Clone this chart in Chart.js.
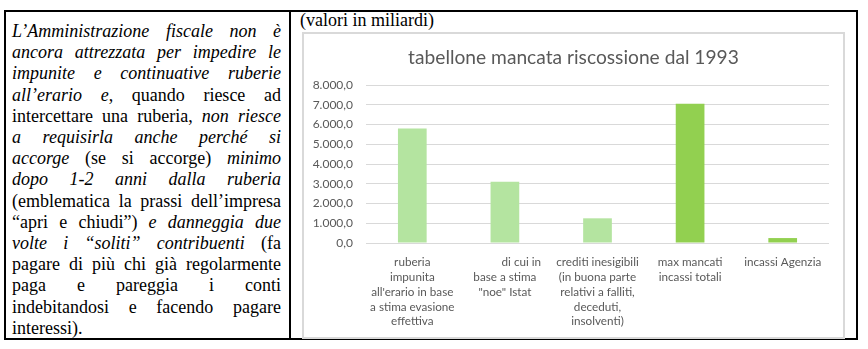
<!DOCTYPE html>
<html>
<head>
  <title>tabellone mancata riscossione dal 1993</title>
  <script src="https://cdn.jsdelivr.net/npm/chart.js"></script>
  <style>
    body { margin: 0; background: #fff; }
    #tabella {
      position: absolute; left: 4px; top: 10px; width: 854px; height: 330px;
      border: 2px solid #000; box-sizing: border-box;
    }
    #divisore { position: absolute; left: 289px; top: 10px; width: 2px; height: 330px; background: #000; }
    #testo {
      position: absolute; left: 12px; top: 21px; width: 269px;
      font-family: "Liberation Serif", "Times New Roman", serif;
      font-size: 18px; line-height: 21.2px; color: #000;
    }
    #testo div { text-align: justify; text-align-last: justify; }
    #testo div.ultima { text-align: left; text-align-last: left; }
    #unita {
      position: absolute; left: 300px; top: 10px;
      font-family: "Liberation Serif", "Times New Roman", serif;
      font-size: 18px; line-height: 21.6px;
    }
    #riquadro {
      position: absolute; left: 302px; top: 32px; width: 543px; height: 307px;
      border: 2px solid #d9d9d9; box-sizing: border-box; background: #fff;
    }
    #riquadro canvas { display: block; }
  </style>
</head>
<body>
  <div id="tabella"></div>
  <div id="divisore"></div>

  <div id="testo">
    <div><i>L’Amministrazione fiscale non è</i></div>
    <div><i>ancora attrezzata per impedire le</i></div>
    <div><i>impunite e continuative ruberie</i></div>
    <div><i>all’erario e</i>, quando riesce ad</div>
    <div>intercettare una ruberia, <i>non riesce</i></div>
    <div><i>a requisirla anche perché si</i></div>
    <div><i>accorge</i> (se si accorge) <i>minimo</i></div>
    <div><i>dopo 1-2 anni dalla ruberia</i></div>
    <div>(emblematica la prassi dell’impresa</div>
    <div>“apri e chiudi”) <i>e danneggia due</i></div>
    <div><i>volte i “soliti” contribuenti</i> (fa</div>
    <div>pagare di più chi già regolarmente</div>
    <div>paga e pareggia i conti</div>
    <div>indebitandosi e facendo pagare</div>
    <div class="ultima">interessi).</div>
  </div>

  <div id="unita">(valori in miliardi)</div>

  <div id="riquadro">
    <canvas id="grafico" width="539" height="303"></canvas>
  </div>

  <script>
    // categorie (su più righe come nelle etichette del grafico)
    const categorie = [
      ['ruberia', 'impunita', "all'erario in base", 'a stima evasione', 'effettiva'],
      ['           di cui in', 'base a stima', '"noe" Istat'],
      ['crediti inesigibili', '(in buona parte', 'relativi a falliti,', 'deceduti,', 'insolventi)'],
      ['max mancati', 'incassi totali'],
      ['incassi Agenzia']
    ];
    // miliardi di euro
    const valori = [5800, 3100, 1250, 7050, 250];
    const coloriBarre = ['#b4e4a0', '#b4e4a0', '#b4e4a0', '#92d050', '#92d050'];
    const asseMin = 0;
    const asseMax = 8000;
    const passoAsse = 1000;

    const grigioTesto = '#595959';

    function formatta(v) {
      const intero = Math.round(v).toString().replace(/\B(?=(\d{3})+(?!\d))/g, '.');
      return intero + ',0';
    }

    const ctx = document.getElementById('grafico').getContext('2d');
    new Chart(ctx, {
      type: 'bar',
      data: {
        labels: categorie,
        datasets: [{
          data: valori,
          backgroundColor: coloriBarre,
          borderWidth: 0,
          barPercentage: 0.31,
          categoryPercentage: 1
        }]
      },
      options: {
        responsive: false,
        animation: false,
        devicePixelRatio: 1,
        layout: { padding: 0 },
        plugins: {
          legend: { display: false },
          tooltip: { enabled: false },
          title: {
            display: true,
            text: 'tabellone mancata riscossione dal 1993',
            color: grigioTesto,
            font: { family: 'Lato', size: 19.2, weight: 'normal' },
            padding: { top: 12, bottom: 16 }
          }
        },
        scales: {
          y: {
            min: asseMin,
            max: asseMax,
            ticks: {
              stepSize: passoAsse,
              padding: 13,
              color: grigioTesto,
              font: { family: 'Lato', size: 12 },
              callback: v => formatta(v)
            },
            grid: { color: '#d9d9d9', lineWidth: 1, drawTicks: false },
            border: { display: false },
            afterFit: s => { s.width = 62; }
          },
          // margine a destra dell'area del grafico
          margine: {
            position: 'right',
            ticks: { display: false },
            grid: { display: false },
            border: { display: false },
            afterFit: s => { s.width = 14; }
          },
          x: {
            ticks: {
              padding: 4,
              color: grigioTesto,
              font: { family: 'Lato', size: 11.7, lineHeight: '14.8px' },
              maxRotation: 0,
              autoSkip: false
            },
            grid: { display: false },
            border: { display: false },
            afterFit: s => { s.height = 94; }
          }
        }
      }
    });
  </script>
</body>
</html>
